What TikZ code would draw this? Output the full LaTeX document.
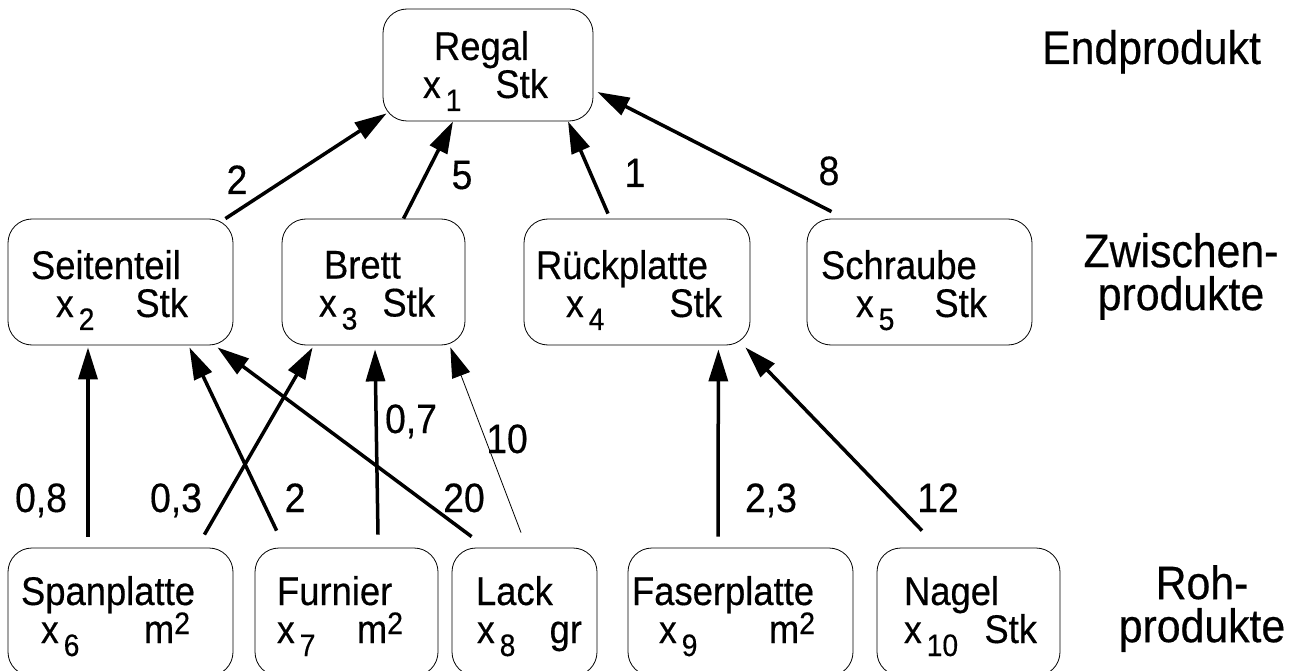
\documentclass[tikz,border=0pt]{standalone}
\usepackage{fontspec}
\setmainfont[FakeStretch=0.91, FakeBold=0.4]{Liberation Sans}
\usetikzlibrary{arrows.meta}

% index and unit helpers
\newcommand{\xv}{{\fontsize{39}{38}\selectfont x}}
\newcommand{\nr}[1]{\hspace{5pt}\smash{\raisebox{-13pt}{\fontsize{31}{30}\selectfont #1}}}
\newcommand{\qm}{m\smash{\raisebox{9pt}{\fontsize{31}{30}\selectfont 2}}}
% strut, indent, name, indent, index, unit, right gap
\newcommand{\ware}[7]{\rule{0pt}{#1pt}\hspace*{#2pt}#3\\\hspace*{#4pt}\xv\nr{#5}\hfill #6\hspace*{#7pt}\rule[-14pt]{0pt}{14pt}}

\begin{document}
\begin{tikzpicture}[x=1pt, y=1pt,
    teil/.style={draw, line width=0.8pt, rounded corners=24pt, inner sep=0pt,
        align=left, text width=#1pt, font=\fontsize{40}{38}\selectfont},
    oben/.style={minimum height=112pt},
    mitte/.style={minimum height=126pt},
    unten/.style={minimum height=128pt},
    pfeil/.style={-{Triangle[length=32pt, width=19pt]}, line width=3.5pt},
    duenn/.style={-{Triangle[length=30pt, width=19pt]}, line width=0.8pt},
    zahl/.style={anchor=base, inner sep=0pt, font=\fontsize{41}{40}\selectfont},
    stufe/.style={align=center, inner sep=0pt, font=\fontsize{47}{43}\selectfont}]
    \useasboundingbox (0,0) rectangle (1301,-671);

    % Endprodukt
    \node[teil=210, oben] (regal) at (488,-65) {\ware{42}{51}{Regal}{40}{1}{Stk}{45}};

    % Zwischenprodukte
    \node[teil=225, mitte] (seite) at (120.5,-282) {\ware{46}{23}{Seitenteil}{48}{2}{Stk}{45}};
    \node[teil=183, mitte] (brett) at (373.5,-282) {\ware{45}{42}{Brett}{37}{3}{Stk}{30}};
    \node[teil=226, mitte] (rueck) at (637,-282) {\ware{46}{12}{Rückplatte}{42}{4}{Stk}{28}};
    \node[teil=225, mitte] (schraube) at (919.5,-282) {\ware{46}{14}{Schraube}{49}{5}{Stk}{45}};

    % Rohprodukte
    \node[teil=225, unten] (span) at (120.5,-612) {\ware{38}{13}{Spanplatte}{33}{6}{\qm}{43}};
    \node[teil=183, unten] (furnier) at (346.5,-612) {\ware{38}{22}{Furnier}{22}{7}{\qm}{35}};
    \node[teil=145, unten] (lack) at (524.5,-612) {\ware{38}{24}{Lack}{25}{8}{gr}{15}};
    \node[teil=225, unten] (faser) at (740.5,-612) {\ware{38}{4}{Faserplatte}{31}{9}{\qm}{38}};
    \node[teil=183, unten] (nagel) at (968.5,-612) {\ware{38}{27}{Nagel}{27}{10}{Stk}{23}};

    % Stufen
    \node[stufe, anchor=base] (end) at (1151.5,-64) {Endprodukt};
    \node[stufe] (zwischen) at (1181,-276.5) {Zwischen-\\produkte};
    \node[stufe] (roh) at (1202,-608.5) {Roh-\\produkte};

    % Pfeile zum Regal
    \draw[pfeil] ([xshift=-8pt]seite.north east) -- ([xshift=4pt,yshift=8pt]regal.south west);
    \draw[pfeil] ([xshift=30pt]brett.north) -- ([xshift=-35pt]regal.south);
    \draw[pfeil] ([xshift=-29pt,yshift=5pt]rueck.north) -- ([xshift=80pt]regal.south);
    \draw[pfeil] ([xshift=-88pt,yshift=7pt]schraube.north) -- ([xshift=4pt,yshift=-27pt]regal.east);

    % Pfeile zu den Zwischenprodukten
    \draw[pfeil] ([xshift=-32.5pt,yshift=11pt]span.north) -- ([xshift=-32.5pt,yshift=-2pt]seite.south);
    \draw[pfeil] ([xshift=-29pt,yshift=13pt]span.north east) -- ([xshift=31pt,yshift=-2pt]brett.south west);
    \draw[pfeil] ([xshift=22pt,yshift=17pt]furnier.north west) -- ([xshift=-44pt,yshift=-2pt]seite.south east);
    \draw[pfeil] ([xshift=20pt,yshift=11pt]lack.north west) -- ([xshift=-16pt,yshift=-2pt]seite.south east);
    \draw[pfeil] ([xshift=31.5pt,yshift=13pt]furnier.north) -- ([xshift=1.5pt,yshift=-4pt]brett.south);
    \draw[duenn] ([xshift=-3.5pt,yshift=15pt]lack.north) -- ([xshift=-15pt,yshift=-2pt]brett.south east);
    \draw[pfeil] ([xshift=-22.5pt,yshift=11pt]faser.north) -- ([xshift=-32pt,yshift=-4pt]rueck.south east);
    \draw[pfeil] ([xshift=-46.5pt,yshift=17pt]nagel.north) -- ([xshift=-5pt,yshift=-2pt]rueck.south east);

    % Mengen
    \node[zahl] (m-seite) at (237,-194) {2};
    \node[zahl] (m-brett) at (462,-189) {5};
    \node[zahl] (m-rueck) at (635,-187) {1};
    \node[zahl] (m-schraube) at (829,-185) {8};
    \node[zahl] (m-span-seite) at (41,-512) {0,8};
    \node[zahl] (m-span-brett) at (176,-512) {0,3};
    \node[zahl] (m-furnier-seite) at (295,-512) {2};
    \node[zahl] (m-lack-seite) at (464,-512) {20};
    \node[zahl] (m-furnier-brett) at (411,-433) {0,7};
    \node[zahl] (m-lack-brett) at (507,-453) {10};
    \node[zahl] (m-faser) at (771,-512) {2,3};
    \node[zahl] (m-nagel) at (938,-512) {12};
\end{tikzpicture}
\end{document}
